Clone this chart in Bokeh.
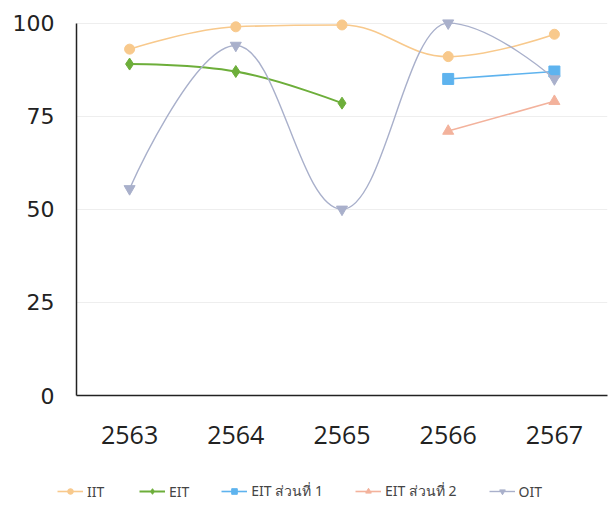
from bokeh.plotting import figure
from bokeh.layouts import column
from bokeh.models import Range1d, FixedTicker, Legend, LegendItem
from bokeh.embed import file_html
from bokeh.resources import INLINE

years = ["2563", "2564", "2565", "2566", "2567"]
series_names = ["IIT", "EIT", "EIT ส่วนที่ 1", "EIT ส่วนที่ 2", "OIT"]
iit = [93, 99, 99.5, 91, 97]
eit = [89, 87, 78.5, None, None]
eit_part1 = [None, None, None, 85, 87]
eit_part2 = [None, None, None, 71, 79]
oit = [55.5, 94, 50, 100, 85]
y_ticks = [0, 25, 50, 75, 100]

colors = ["#f8c98c", "#6dae3a", "#5eb3ee", "#f3b29c", "#a9b0cb"]
markers = ["circle", "diamond", "square", "triangle", "inverted_triangle"]
msizes = [10, 12, 11, 11, 11]
lwidths = [1.6, 2.0, 1.6, 1.6, 1.4]


def spline(xs, ys):
    """Highcharts-style spline control points."""
    n = len(xs)
    left = [None] * n
    right = [None] * n
    sm, den = 1.5, 2.5
    for i in range(n):
        if 0 < i < n - 1:
            px, py = xs[i], ys[i]
            lx, ly = xs[i - 1], ys[i - 1]
            nx, ny = xs[i + 1], ys[i + 1]
            lcx = (sm * px + lx) / den
            lcy = (sm * py + ly) / den
            rcx = (sm * px + nx) / den
            rcy = (sm * py + ny) / den
            corr = 0
            if rcx != lcx:
                corr = ((rcy - lcy) * (rcx - px)) / (rcx - lcx) + py - rcy
            lcy += corr
            rcy += corr
            if lcy > ly and lcy > py:
                lcy = max(ly, py); rcy = 2 * py - lcy
            elif lcy < ly and lcy < py:
                lcy = min(ly, py); rcy = 2 * py - lcy
            if rcy > ny and rcy > py:
                rcy = max(ny, py); lcy = 2 * py - rcy
            elif rcy < ny and rcy < py:
                rcy = min(ny, py); lcy = 2 * py - rcy
            left[i] = (lcx, lcy)
            right[i] = (rcx, rcy)
        else:
            left[i] = right[i] = (xs[i], ys[i])
    seg = dict(x0=[], y0=[], x1=[], y1=[], cx0=[], cy0=[], cx1=[], cy1=[])
    for i in range(n - 1):
        seg["x0"].append(xs[i]); seg["y0"].append(ys[i])
        seg["x1"].append(xs[i + 1]); seg["y1"].append(ys[i + 1])
        seg["cx0"].append(right[i][0]); seg["cy0"].append(right[i][1])
        seg["cx1"].append(left[i + 1][0]); seg["cy1"].append(left[i + 1][1])
    return seg


p = figure(width=608, height=470, output_backend="svg", toolbar_location=None,
           x_range=Range1d(-0.5, 4.5), y_range=Range1d(0, 101.5),
           min_border_left=76, min_border_right=1, min_border_top=17,
           min_border_bottom=75)
p.outline_line_color = None
p.background_fill_color = "white"
p.border_fill_color = "white"
p.frame_align = False

# legend-only strip (its renderers sit outside its visible range)
lg = figure(width=608, height=33, output_backend="svg", toolbar_location=None,
            x_axis_type=None, y_axis_type=None,
            x_range=Range1d(0, 1), y_range=Range1d(0, 1),
            min_border=0)
lg.outline_line_color = None
lg.xgrid.grid_line_color = None
lg.ygrid.grid_line_color = None
lg.frame_align = False

items = []
all_series = [iit, eit, eit_part1, eit_part2, oit]
for k, vals in enumerate(all_series):
    xs = [i for i, v in enumerate(vals) if v is not None]
    ys = [v for v in vals if v is not None]
    seg = spline(xs, ys)
    p.bezier(line_color=colors[k], line_width=lwidths[k], **seg)
    p.scatter(xs, ys, marker=markers[k], size=msizes[k],
              fill_color=colors[k], line_color=colors[k])
    l1 = lg.line(xs, ys, line_color=colors[k], line_width=lwidths[k])
    l2 = lg.scatter(xs, ys, marker=markers[k], size=msizes[k] - 2,
                    fill_color=colors[k], line_color=colors[k])
    items.append(LegendItem(label=series_names[k], renderers=[l1, l2]))

legend = Legend(items=items, orientation="horizontal", location=(57, 1),
                background_fill_alpha=0, border_line_color=None,
                padding=0, margin=0, spacing=32, label_standoff=4,
                glyph_width=26, glyph_height=14, label_height=14,
                label_text_font_size="14px", label_text_color="#444444",
                label_text_font="Noto Sans")
lg.add_layout(legend, "center")

p.xaxis.ticker = FixedTicker(ticks=list(range(len(years))))
p.xaxis.major_label_overrides = {i: y for i, y in enumerate(years)}
p.yaxis.ticker = FixedTicker(ticks=y_ticks)
p.yaxis.bounds = (0, 100)
for ax in (p.xaxis, p.yaxis):
    ax.major_tick_line_color = None
    ax.minor_tick_line_color = None
    ax.axis_line_color = "#222222"
    ax.axis_line_width = 1.5
    ax.major_label_text_color = "#222222"
p.xaxis.major_label_text_font = "Open Sans"
p.xaxis.major_label_text_font_size = "25px"
p.yaxis.major_label_text_font = "DejaVu Sans"
p.yaxis.major_label_text_font_size = "22px"
p.yaxis.major_label_standoff = 16
p.xaxis.major_label_standoff = 24
p.xgrid.grid_line_color = None
p.ygrid.grid_line_color = "#eeeeee"
p.ygrid.ticker = FixedTicker(ticks=y_ticks)

layout = column(p, lg, spacing=0)
open("out.html", "w").write(file_html(layout, INLINE))
